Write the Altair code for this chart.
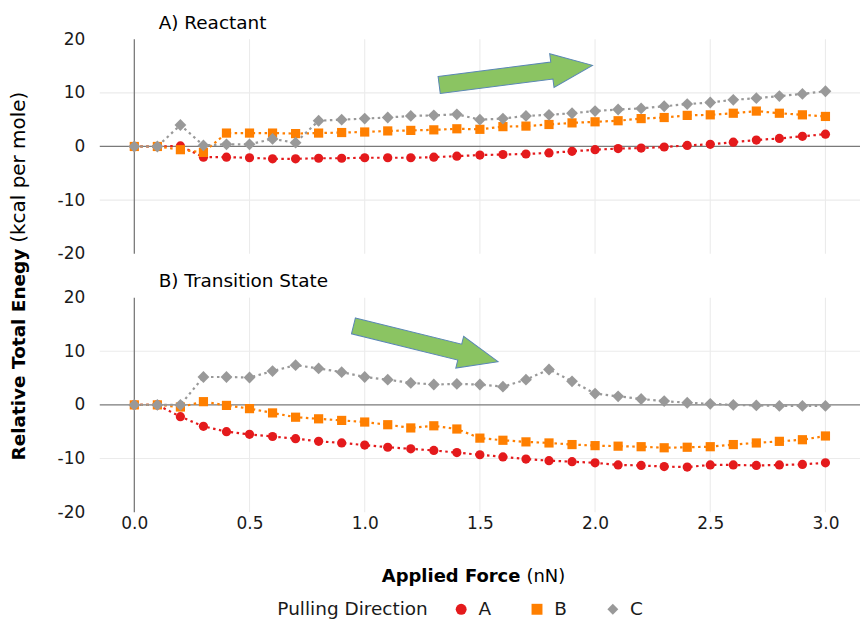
import altair as alt
import pandas as pd

# ---------------- data ----------------
force = [0.0, 0.1, 0.2, 0.3, 0.4, 0.5, 0.6, 0.7, 0.8, 0.9, 1.0,
         1.1, 1.2, 1.3, 1.4, 1.5, 1.6, 1.7, 1.8, 1.9, 2.0,
         2.1, 2.2, 2.3, 2.4, 2.5, 2.6, 2.7, 2.8, 2.9, 3.0]

directions = ["A", "B", "C"]
colors = ["#E41A1C", "#FF7F00", "#999999"]
shapes = ["circle", "square", "diamond"]
point_sizes = [85, 85, 140]

reactant_A = [0, 0, 0.1, -2.0, -2.0, -2.1, -2.3, -2.3, -2.2, -2.2, -2.1,
              -2.1, -2.1, -2.0, -1.8, -1.6, -1.5, -1.4, -1.2, -0.9, -0.6,
              -0.4, -0.3, -0.1, 0.2, 0.4, 0.8, 1.2, 1.5, 1.9, 2.3]
reactant_B = [0, 0, -0.6, -1.1, 2.5, 2.5, 2.5, 2.4, 2.5, 2.6, 2.7,
              2.9, 3.0, 3.1, 3.3, 3.2, 3.7, 3.8, 4.1, 4.4, 4.6,
              4.8, 5.2, 5.4, 5.8, 5.9, 6.2, 6.6, 6.2, 5.9, 5.6]
reactant_C = [0, 0, 4.0, 0.2, 0.4, 0.4, 1.4, 0.7, 4.8, 5.0, 5.2,
              5.4, 5.7, 5.8, 6.0, 5.0, 5.2, 5.7, 5.9, 6.2, 6.6,
              6.9, 7.1, 7.5, 7.9, 8.2, 8.7, 9.0, 9.4, 9.8, 10.3]

ts_A = [0, 0, -2.2, -4.0, -5.0, -5.5, -5.9, -6.3, -6.8, -7.1, -7.5,
        -7.9, -8.2, -8.5, -8.9, -9.3, -9.7, -10.1, -10.4, -10.6, -10.8,
        -11.2, -11.3, -11.5, -11.6, -11.2, -11.2, -11.3, -11.2, -11.1, -10.8]
ts_B = [0, 0, -0.4, 0.6, -0.1, -0.7, -1.5, -2.3, -2.6, -2.9, -3.2,
        -3.7, -4.3, -3.9, -4.5, -6.2, -6.6, -6.9, -7.1, -7.4, -7.6,
        -7.7, -7.8, -8.0, -7.9, -7.8, -7.4, -7.1, -6.8, -6.5, -5.8]
ts_C = [0, 0, 0, 5.2, 5.2, 5.1, 6.3, 7.4, 6.8, 6.1, 5.2,
        4.7, 4.1, 3.8, 3.9, 3.8, 3.4, 4.7, 6.6, 4.4, 2.1,
        1.6, 1.1, 0.7, 0.4, 0.2, 0.0, -0.1, -0.2, -0.2, -0.2]

panel_titles = ["A) Reactant", "B) Transition State"]
x_ticks = [0.0, 0.5, 1.0, 1.5, 2.0, 2.5, 3.0]
y_ticks = [-20, -10, 0, 10, 20]
x_grid = [0.5, 1.0, 1.5, 2.0, 2.5, 3.0]
y_grid = [-10, 10]

# annotation arrows (centre in data coords, angle in degrees, symbol size)
arrow_top = {"force": [1.656], "energy": [13.3], "angle": [352.7], "size": [24000]}
arrow_bottom = {"force": [1.265], "energy": [11.4], "angle": [13.9], "size": [22300]}

FONT = "DejaVu Sans"
TXT = "#1a1a1a"
ARROW_PATH = ("M -1 -0.11 L 0.47 -0.11 L 0.47 -0.22 L 1 0 "
              "L 0.47 0.22 L 0.47 0.11 L -1 0.11 Z")

W, H = 762, 215
XSCALE = alt.Scale(domain=[-0.15, 3.15], nice=False, zero=False)
YSCALE = alt.Scale(domain=[-20, 20], nice=False, zero=False)
one = pd.DataFrame({"k": [0]})


def long_df(series):
    rows = []
    for d, sz, vals in zip(directions, point_sizes, series):
        for f, v in zip(force, vals):
            rows.append({"force": f, "energy": v, "direction": d, "psize": sz})
    return pd.DataFrame(rows)


def text_mark(text, x, y, align, size, bold=False, angle=0, baseline="middle"):
    return alt.Chart(one).mark_text(
        text=text, align=align, baseline=baseline, angle=angle,
        font=FONT, fontSize=size, fontWeight="bold" if bold else "normal",
        color="black").encode(x=alt.value(x), y=alt.value(y))


def panel(series, title, title_y, arrow, show_x, with_legend, extra_layers):
    df = long_df(series)
    xaxis = alt.Axis(values=x_ticks, format=".1f", title=None, labels=show_x,
                     ticks=False, domain=False, grid=False,
                     labelFontSize=17, labelFont=FONT, labelColor=TXT,
                     labelPadding=3)
    yaxis = alt.Axis(values=y_ticks, title=None, ticks=False, domain=False,
                     grid=False, labelExpr="'' + datum.value",
                     labelFontSize=17, labelFont=FONT, labelColor=TXT,
                     labelPadding=15)
    X = lambda f: alt.X(f, scale=XSCALE, axis=xaxis)
    Y = lambda f: alt.Y(f, scale=YSCALE, axis=yaxis)

    gv = alt.Chart(pd.DataFrame({"force": x_grid})).mark_rule(
        color="#EBEBEB", strokeWidth=1.1).encode(x=X("force:Q"))
    gh = alt.Chart(pd.DataFrame({"energy": y_grid})).mark_rule(
        color="#EBEBEB", strokeWidth=1.1).encode(y=Y("energy:Q"))
    zero_h = alt.Chart(pd.DataFrame({"energy": [0]})).mark_rule(
        color="#7A7A7A", strokeWidth=1.3).encode(y=Y("energy:Q"))
    zero_v = alt.Chart(pd.DataFrame({"force": [0]})).mark_rule(
        color="#7A7A7A", strokeWidth=1.3).encode(x=X("force:Q"))

    arr = alt.Chart(pd.DataFrame(arrow)).mark_point(
        shape=ARROW_PATH, filled=True, fill="#8BC462", fillOpacity=1,
        stroke="#5A86B5", strokeWidth=1, opacity=1).encode(
        x=X("force:Q"), y=Y("energy:Q"),
        angle=alt.Angle("angle:Q", scale=None),
        size=alt.Size("size:Q", scale=None))

    line_layers = []
    for d, c in zip(directions, colors):
        line_layers.append(
            alt.Chart(df[df["direction"] == d]).mark_line(
                strokeDash=[2.5, 3.5], strokeWidth=2.2, color=c).encode(
                x=X("force:Q"), y=Y("energy:Q")))

    if with_legend:
        legend = alt.Legend(title="Pulling Direction", orient="none",
                            legendX=178, legendY=303, direction="horizontal",
                            titleOrient="left", titleFontSize=18.5,
                            labelFontSize=18.5, titleFont=FONT, labelFont=FONT,
                            titleFontWeight="normal", titleColor=TXT,
                            labelColor=TXT, symbolSize=120,
                            symbolStrokeWidth=0, titlePadding=24,
                            labelOffset=8, columnPadding=36,
                            titleBaseline="middle")
        color = alt.Color("direction:N",
                          scale=alt.Scale(domain=directions, range=colors),
                          legend=legend)
        shape = alt.Shape("direction:N",
                          scale=alt.Scale(domain=directions, range=shapes),
                          legend=legend)
    else:
        color = alt.Color("direction:N",
                          scale=alt.Scale(domain=directions, range=colors),
                          legend=None)
        shape = alt.Shape("direction:N",
                          scale=alt.Scale(domain=directions, range=shapes),
                          legend=None)

    pts = alt.Chart(df).mark_point(filled=True, opacity=1, strokeWidth=0).encode(
        x=X("force:Q"), y=Y("energy:Q"), color=color, shape=shape,
        size=alt.Size("psize:Q", scale=None))

    ttl = text_mark(title, 59, title_y, "left", 18.5, baseline="alphabetic")

    layers = [gv, gh, zero_h, zero_v, arr] + line_layers + [pts, ttl] + extra_layers
    return alt.layer(*layers).properties(width=W, height=H)


# axis titles (mixed bold / normal), placed relative to the bottom panel
y_title_bold = text_mark("Relative Total Enegy", -81, -49, "right", 18.5, True, angle=270)
y_title_norm = text_mark("(kcal per mole)", -81, -55, "left", 20, False, angle=270)
x_title_bold = text_mark("Applied Force", 421.6, 280, "right", 18, True)
x_title_norm = text_mark("(nN)", 427.6, 280, "left", 18, False)

top = panel([reactant_A, reactant_B, reactant_C], panel_titles[0], -10,
            arrow_top, False, False, [])
bottom = panel([ts_A, ts_B, ts_C], panel_titles[1], -11, arrow_bottom, True, True,
               [y_title_bold, y_title_norm, x_title_bold, x_title_norm])

chart = alt.vconcat(top, bottom, spacing=44, bounds="flush").resolve_scale(
    color="independent", shape="independent").properties(
    padding={"left": 8, "top": 13.6, "right": 0, "bottom": 0},
    background="white"
).configure_view(stroke=None)

chart.save("out.html", embed_options={"renderer": "svg", "actions": False})
